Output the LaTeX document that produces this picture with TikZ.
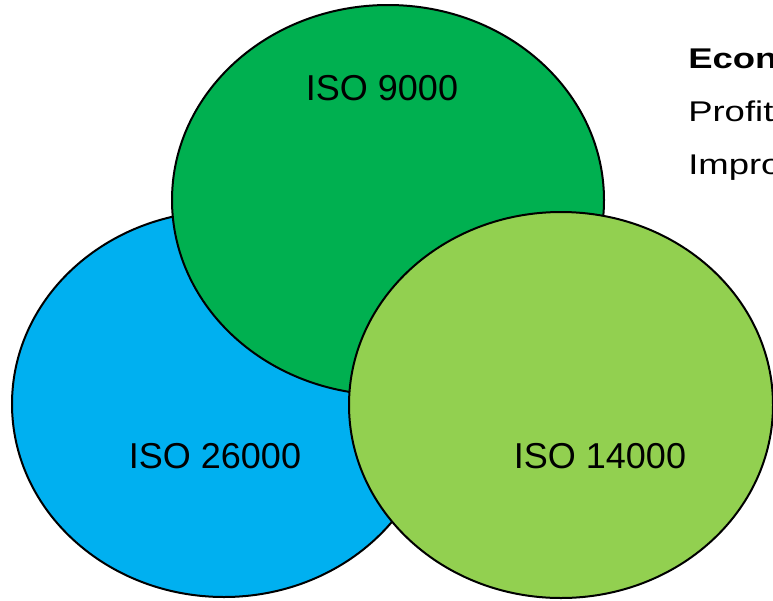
\documentclass[tikz,border=0pt]{standalone}
\usepackage{fontspec}
\setmainfont{Liberation Sans}
\usetikzlibrary{shapes.geometric}
\definecolor{isoblue}{HTML}{00B0F0}
\definecolor{isogreen}{HTML}{00B050}
\definecolor{isolight}{HTML}{92D050}
\tikzset{
  blob/.style={ellipse, draw=black, line width=2pt, inner sep=0pt},
  isolabel/.style={font=\fontsize{36}{43}\selectfont, inner sep=0pt, text=black},
  sidetext/.style={font=\fontsize{28.5}{34}\selectfont, anchor=base west, inner sep=0pt, text=black, xscale=1.28}
}
\begin{document}
\begin{tikzpicture}[x=1pt,y=-1pt]
\useasboundingbox (0,0) rectangle (773,600);
\node[blob, fill=isoblue, minimum width=424pt, minimum height=386pt] (blue) at (224,404) {};
\node[blob, fill=isogreen, minimum width=432pt, minimum height=390pt] (green) at (388,200) {};
\node[blob, fill=isolight, minimum width=424pt, minimum height=386pt] (light) at (561,405) {};
\node[isolabel] (t9000) at (382,88) {ISO 9000};
\node[isolabel] (t26000) at (215,456) {ISO 26000};
\node[isolabel] (t14000) at (600,456) {ISO 14000};
\node[sidetext, font=\fontsize{28.5}{34}\selectfont\bfseries] (econ) at (688,68) {Econ};
\node[sidetext] (profit) at (688,121) {Profit};
\node[sidetext] (impro) at (688,174) {Impro};
\end{tikzpicture}
\end{document}
